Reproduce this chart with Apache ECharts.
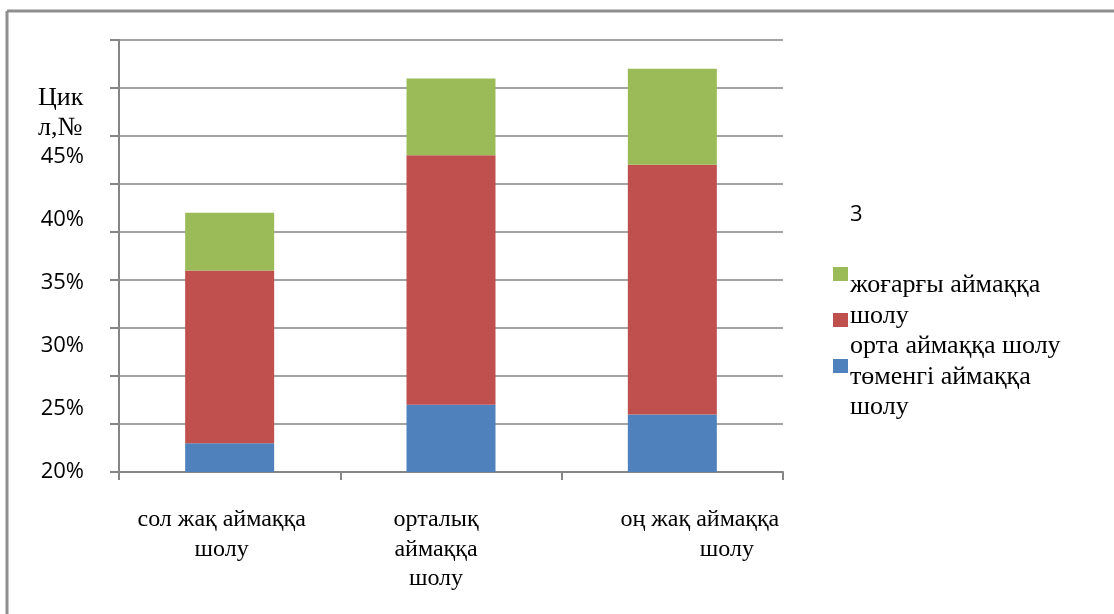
<!DOCTYPE html>
<html>
<head>
<meta charset="utf-8">
<style>
  html, body { margin: 0; padding: 0; background: #fff; }
  #chart { width: 1114px; height: 614px; }
</style>
<script src="https://cdn.jsdelivr.net/npm/echarts@6/dist/echarts.min.js"></script>
</head>
<body>
<div id="chart"></div>
<script>
// Categories (zones of the visual field)
const categories = ['сол жақ аймаққа\nшолу', 'орталық\nаймаққа\nшолу', 'оң жақ аймаққа\n         шолу'];

// Stacked series, percent
const lowerName = 'төменгі аймаққа шолу';
const middleName = 'орта аймаққа шолу';
const upperName = 'жоғарғы аймаққа шолу';
const lowerValues = [3, 7, 6];
const middleValues = [18, 26, 26];
const upperValues = [6, 8, 10];

// Value-axis label texts
const yTickLabels = ['20%', '25%', '30%', '35%', '40%', '45%'];
const yAxisTitle = 'Цик\nл,№';
const legendHeading = '3';

const colors = { lower: '#4F81BD', middle: '#C0504D', upper: '#9BBB59' };
const serif = 'Liberation Serif, Times New Roman, serif';
const sans = 'Open Sans, Liberation Sans, sans-serif';
const axisGray = '#868686';

// Wrap one legend name into a narrow text column
function wrapWords(text, maxWidth, font) {
  const ctx = document.createElement('canvas').getContext('2d');
  ctx.font = font;
  const words = text.split(' ');
  const lines = [];
  let line = '';
  words.forEach(w => {
    const test = line ? line + ' ' + w : w;
    if (ctx.measureText(test).width > maxWidth && line) {
      lines.push(line);
      line = w;
    } else {
      line = test;
    }
  });
  if (line) lines.push(line);
  return lines.join('\n');
}
const legendFont = '26px ' + serif;
const legendOrder = [upperName, middleName, lowerName];
const legendText = legendOrder.map(n => wrapWords(n, 218, legendFont)).join('\n');

// Category label styles: each label sits slightly off its band centre
const catLabelBase = { fontFamily: serif, fontSize: 24, lineHeight: 29.5, color: '#000' };
const catRich = {
  c0: Object.assign({ padding: [0, 16, 0, 0] }, catLabelBase),
  c1: Object.assign({ padding: [0, 30, 0, 0] }, catLabelBase),
  c2: Object.assign({ padding: [0, 0, 0, 55] }, catLabelBase)
};

const chart = echarts.init(document.getElementById('chart'));
chart.setOption({
  animation: false,
  backgroundColor: '#fff',
  grid: { left: 119, right: 331, top: 40, bottom: 142, containLabel: false },
  legend: {
    orient: 'vertical',
    left: 828,
    top: 262,
    itemWidth: 15,
    itemHeight: 14,
    itemGap: 32,
    icon: 'rect',
    data: legendOrder,
    formatter: () => '',
    textStyle: { fontSize: 10, lineHeight: 14 },
    selectedMode: false
  },
  xAxis: {
    type: 'category',
    data: categories,
    axisLine: { lineStyle: { color: axisGray, width: 2 } },
    axisTick: { show: true, length: 8, alignWithLabel: false, interval: 0, lineStyle: { color: axisGray, width: 2 } },
    axisLabel: {
      interval: 0,
      margin: 33,
      color: '#000',
      fontFamily: serif,
      fontSize: 24,
      lineHeight: 29.5,
      formatter: (value, idx) => '{c' + idx + '|' + value + '}',
      rich: catRich
    }
  },
  yAxis: [
    {
      type: 'value',
      min: 0,
      max: 45,
      interval: 5,
      axisLine: { show: true, lineStyle: { color: axisGray, width: 2 } },
      axisTick: { show: true, length: 9, lineStyle: { color: axisGray, width: 2 } },
      axisLabel: { show: false },
      splitLine: { lineStyle: { color: '#a3a3a3', width: 2 } }
    },
    {
      type: 'value',
      position: 'left',
      min: 20,
      max: 54.26,
      interval: 5,
      axisLine: { show: false },
      axisTick: { show: false },
      splitLine: { show: false },
      axisLabel: {
        margin: 35,
        color: '#000',
        fontFamily: sans,
        fontSize: 22,
        formatter: v => yTickLabels[Math.round((v - 20) / 5)] || ''
      }
    }
  ],
  series: [
    { name: lowerName, type: 'bar', stack: 'zones', barWidth: 89, data: lowerValues, itemStyle: { color: colors.lower } },
    { name: middleName, type: 'bar', stack: 'zones', barWidth: 89, data: middleValues, itemStyle: { color: colors.middle } },
    { name: upperName, type: 'bar', stack: 'zones', barWidth: 89, data: upperValues, itemStyle: { color: colors.upper } }
  ],
  graphic: [
    // frame (top and left edges)
    { type: 'line', shape: { x1: 7, y1: 11, x2: 1114, y2: 11 }, style: { stroke: '#8f8f8f', lineWidth: 3 } },
    { type: 'line', shape: { x1: 7, y1: 11, x2: 7, y2: 614 }, style: { stroke: '#8f8f8f', lineWidth: 3 } },
    // value-axis title
    {
      type: 'text', left: 38, top: 83,
      style: { text: yAxisTitle, font: '26px ' + serif, fill: '#000', lineHeight: 30, align: 'left' }
    },
    // legend heading and names
    {
      type: 'text', left: 850, top: 204,
      style: { text: legendHeading, font: '22px ' + sans, fill: '#000' }
    },
    {
      type: 'text', left: 850, top: 270,
      style: { text: legendText, font: legendFont, fill: '#000', lineHeight: 30.5 }
    }
  ]
});
</script>
</body>
</html>
